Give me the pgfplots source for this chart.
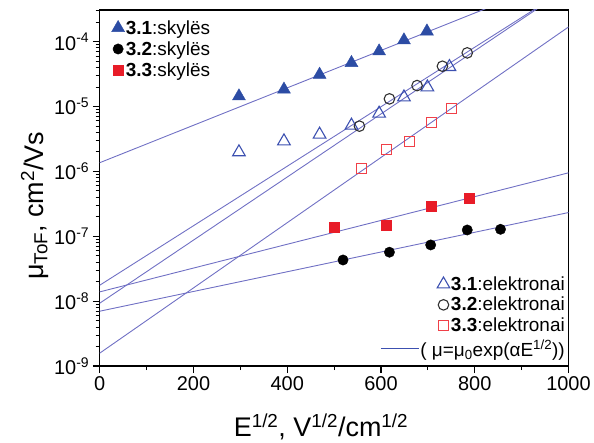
\documentclass[border=0pt]{standalone}
\usepackage{fontspec}
\setmainfont{Liberation Sans}
\usepackage{pgfplots}
\pgfplotsset{compat=1.18}

\definecolor{fitline}{RGB}{112,112,196}
\definecolor{holeblue}{RGB}{44,76,164}
\definecolor{elblue}{RGB}{60,80,176}
\definecolor{holered}{RGB}{232,28,40}
\definecolor{elred}{RGB}{240,64,72}
\definecolor{elgray}{RGB}{50,50,50}

\pgfplotsset{
  frame/.style={width=470bp, height=357bp, scale only axis},
  dotimg/.style={legend image code/.code={\draw[##1] plot coordinates {(0bp,0bp)};}},
  legfont/.style={font=\fontsize{19bp}{22bp}\selectfont},
}

\begin{document}
\begin{tikzpicture}
\begin{axis}[
    frame,
    xmin=0, xmax=1000,
    ymode=log, ymin=1e-9, ymax=3.07e-4,
    axis line style={line width=1.5bp},
    tick align=outside, xtick pos=bottom, ytick pos=left,
    major tick length=7bp, minor tick length=4bp,
    major tick style={line width=1.2bp, black},
    minor tick style={line width=0.9bp, black},
    xtick={0,200,...,1000}, xticklabels={0,200,400,600,800,1000},
    minor xtick={100,300,500,700,900},
    ytick={1e-9,1e-8,1e-7,1e-6,1e-5,1e-4},
    yticklabels={10\textsuperscript{-9},10\textsuperscript{-8},10\textsuperscript{-7},10\textsuperscript{-6},10\textsuperscript{-5},10\textsuperscript{-4}},
    minor ytick={2e-9,3e-9,4e-9,5e-9,6e-9,7e-9,8e-9,9e-9,
                 2e-8,3e-8,4e-8,5e-8,6e-8,7e-8,8e-8,9e-8,
                 2e-7,3e-7,4e-7,5e-7,6e-7,7e-7,8e-7,9e-7,
                 2e-6,3e-6,4e-6,5e-6,6e-6,7e-6,8e-6,9e-6,
                 2e-5,3e-5,4e-5,5e-5,6e-5,7e-5,8e-5,9e-5,
                 2e-4,3e-4},
    tick label style={font=\fontsize{20bp}{24bp}\selectfont},
    label style={font=\fontsize{27bp}{32bp}\selectfont},
    xlabel={E\textsuperscript{1/2}, V\textsuperscript{1/2}/cm\textsuperscript{1/2}},
    ylabel={μ\textsubscript{ToF}, cm\textsuperscript{2}/Vs},
    xlabel style={at={(axis description cs:0.472,-0.197)}, anchor=base},
    ylabel style={at={(axis description cs:-0.121,0.45)}, anchor=base},
    legend style={draw=none, fill=none, legfont, inner sep=0pt,
                  nodes={inner sep=1.2bp}, row sep=3.5bp,
                  at={(axis description cs:0.025,0.975)}, anchor=north west},
    legend cell align=left,
]
% fitted lines mu = mu0 exp(alpha E^1/2)
\addplot[fitline, line width=0.9bp, forget plot] coordinates {(0,1.36e-6) (1000,1.04e-3)};
\addplot[fitline, line width=0.9bp, forget plot] coordinates {(0,1.76e-8) (1000,6.76e-4)};
\addplot[fitline, line width=0.9bp, forget plot] coordinates {(0,9.3e-9) (1000,6.76e-4)};
\addplot[fitline, line width=0.9bp, forget plot] coordinates {(0,1.58e-9) (1000,1.68e-4)};
\addplot[fitline, line width=0.9bp, forget plot] coordinates {(0,1.39e-8) (1000,9.5e-7)};
\addplot[fitline, line width=0.9bp, forget plot] coordinates {(0,7.0e-9) (1000,2.32e-7)};

% electrons (open marks)
\addplot[only marks, mark=triangle, mark size=7.3bp, mark options={draw=elblue, line width=1.1bp}, forget plot]
  coordinates {(297,1.98e-6) (393,2.92e-6) (469,3.71e-6) (537,5.1e-6) (596,7.8e-6) (649,1.39e-5) (699,1.98e-5) (746,4.08e-5)};
\addplot[only marks, mark=o, mark size=5.3bp, mark options={draw=elgray, line width=1.1bp}, forget plot]
  coordinates {(554,4.98e-6) (618,1.31e-5) (677,2.1e-5) (731,4.17e-5) (784,6.7e-5)};
\addplot[only marks, mark=square, mark size=5bp, mark options={draw=elred, line width=1.1bp}, forget plot]
  coordinates {(558,1.10e-6) (611,2.18e-6) (661,2.92e-6) (707,5.73e-6) (750,9.3e-6)};

% holes (filled marks)
\addplot[only marks, dotimg, mark=triangle*, mark size=7.5bp, color=holeblue]
  coordinates {(297,1.44e-5) (393,1.83e-5) (469,3.1e-5) (537,4.7e-5) (596,7.1e-5) (649,1.05e-4) (698,1.44e-4)};
\addlegendentry{\textbf{3.1}:skylës}
\addplot[only marks, dotimg, mark=*, mark size=5.2bp, color=black]
  coordinates {(519,4.31e-8) (618,5.68e-8) (706,7.35e-8) (784,1.25e-7) (855,1.28e-7)};
\addlegendentry{\textbf{3.2}:skylës}
\addplot[only marks, dotimg, mark=square*, mark size=5bp, color=holered]
  coordinates {(500,1.36e-7) (611,1.49e-7) (707,2.92e-7) (789,3.85e-7)};
\addlegendentry{\textbf{3.3}:skylës}
\end{axis}

% legend for the electron series
\begin{axis}[
    frame, hide axis, xmin=0, xmax=1, ymin=0, ymax=1,
    legend style={draw=none, fill=none, legfont, inner sep=0pt,
                  nodes={inner sep=1.2bp}, row sep=3bp,
                  at={(axis description cs:0.995,0.255)}, anchor=north east},
    legend cell align=left,
]
\addlegendimage{only marks, dotimg, mark=triangle, mark size=7.3bp, mark options={draw=elblue, line width=1.1bp}}
\addlegendentry{\textbf{3.1}:elektronai}
\addlegendimage{only marks, dotimg, mark=o, mark size=5.3bp, mark options={draw=elgray, line width=1.1bp}}
\addlegendentry{\textbf{3.2}:elektronai}
\addlegendimage{only marks, dotimg, mark=square, mark size=5bp, mark options={draw=elred, line width=1.1bp}}
\addlegendentry{\textbf{3.3}:elektronai}
\end{axis}

% legend for the fit
\begin{axis}[
    frame, hide axis, xmin=0, xmax=1, ymin=0, ymax=1,
    legend style={draw=none, fill=none, legfont, inner sep=0pt,
                  nodes={inner sep=1.2bp},
                  at={(axis description cs:0.995,0.048)}, anchor=east},
    legend image code/.code={\draw[#1] (0bp,0bp) -- (38bp,0bp);},
]
\addlegendimage{color=elblue, line width=1bp}
\addlegendentry{( μ=μ\textsubscript{0}exp(αE\textsuperscript{1/2}))}
\end{axis}

\path (-100bp,-75bp) rectangle (494bp,367bp);
\end{tikzpicture}
\end{document}
